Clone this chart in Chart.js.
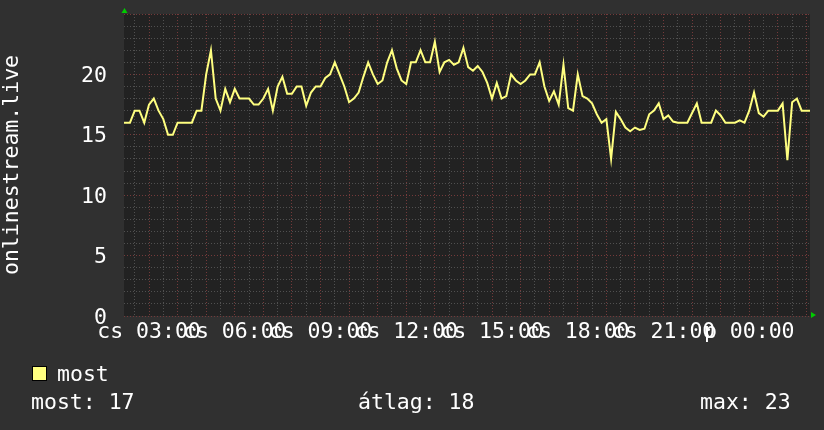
<!DOCTYPE html>
<html>
<head>
<meta charset="utf-8">
<script src="https://cdn.jsdelivr.net/npm/chart.js@4.4.0/dist/chart.umd.min.js"></script>
<style>
  body { margin: 0; background: #303030; }
  #wrap { position: relative; width: 824px; height: 430px; }
  .txt { position: absolute; font-family: "DejaVu Sans Mono", monospace; font-size: 21.5px; line-height: 21px; color: #fff; white-space: pre; }
  #legend-box { position: absolute; left: 32px; top: 366px; width: 15px; height: 15px; box-sizing: border-box; background: #ffff80; border: 1px solid #000; }
</style>
</head>
<body>
<div id="wrap">
  <canvas id="chart" width="824" height="430"></canvas>
  <div id="legend-box"></div>
  <div class="txt" id="legend-name" style="left:57px; top:363px;"></div>
  <div class="txt" id="stat-now" style="left:31px; top:391px;"></div>
  <div class="txt" id="stat-avg" style="left:358px; top:391px;"></div>
  <div class="txt" id="stat-max" style="left:700px; top:391px;"></div>
</div>
<script>
// one sample every 10 minutes, starting thursday 02:00
const startHour = 2;
const stepMinutes = 10;
const listeners = [
  16,
  16, 16, 17, 17, 16, 17.5, 18, 17, 16.3, 15,
  15, 16, 16, 16, 16, 17, 17, 20, 22, 18,
  17, 18.8, 17.7, 18.8, 18, 18, 18, 17.5, 17.5, 18,
  18.8, 17, 19, 19.8, 18.4, 18.4, 19, 19, 17.4, 18.5,
  19, 19, 19.7, 20, 21, 20, 19, 17.7, 18, 18.5,
  19.8, 21, 20, 19.2, 19.5, 21, 22, 20.5, 19.5, 19.2,
  21, 21, 22, 21, 21, 22.7, 20.2, 21, 21.2, 20.8,
  21, 22.2, 20.6, 20.3, 20.7, 20.2, 19.3, 18, 19.3, 18,
  18.2, 20, 19.5, 19.2, 19.5, 20, 20, 21, 19, 17.8,
  18.6, 17.5, 20.8, 17.2, 17, 20, 18.2, 18, 17.6, 16.7,
  16, 16.3, 13, 16.9, 16.3, 15.6, 15.3, 15.6, 15.4, 15.5,
  16.7, 17, 17.6, 16.3, 16.6, 16.1, 16, 16, 16, 16.8,
  17.6, 16, 16, 16, 17, 16.6, 16, 16, 16, 16.2,
  16, 17, 18.5, 16.8, 16.5, 17, 17, 17, 17.6, 12.9,
  17.7, 18, 17, 17, 17
];

const xTickHours = [3, 6, 9, 12, 15, 18, 21, 24];
const xTickLabels = ['cs 03:00', 'cs 06:00', 'cs 09:00', 'cs 12:00', 'cs 15:00', 'cs 18:00', 'cs 21:00', 'p 00:00'];
const yTickLabels = [0, 5, 10, 15, 20];
const yTitle = 'onlinestream.live';
const seriesName = 'most';
const statNames = ['most', 'átlag', 'max'];
const statValues = [17, 18, 23];

const xMin = 2.125;
const xMax = 26.125;
const monoFont = { family: 'DejaVu Sans Mono', size: 21.5 };
const minorGrid = '#505050';
const majorGrid = '#743a3a';

const points = listeners.map((v, i) => ({ x: startHour + i * stepMinutes / 60, y: v }));

const plotBg = {
  id: 'plotBg',
  beforeDraw(chart) {
    const { ctx, chartArea: a } = chart;
    ctx.save();
    ctx.fillStyle = '#222222';
    ctx.fillRect(a.left, a.top, a.right - a.left, a.bottom - a.top);
    ctx.restore();
  }
};

// little green arrow heads at the axis ends
const axisArrows = {
  id: 'axisArrows',
  afterDraw(chart) {
    const { ctx, chartArea: a } = chart;
    ctx.save();
    ctx.fillStyle = '#00cc00';
    ctx.beginPath();
    ctx.moveTo(a.left - 2.5, a.top - 1);
    ctx.lineTo(a.left + 3.5, a.top - 1);
    ctx.lineTo(a.left + 0.5, a.top - 6);
    ctx.fill();
    ctx.beginPath();
    ctx.moveTo(a.right + 1, a.bottom - 4);
    ctx.lineTo(a.right + 1, a.bottom + 2);
    ctx.lineTo(a.right + 6, a.bottom - 1);
    ctx.fill();
    ctx.restore();
  }
};

new Chart(document.getElementById('chart'), {
  type: 'line',
  data: {
    datasets: [{
      label: seriesName,
      data: points,
      borderColor: '#ffff80',
      borderWidth: 2,
      pointRadius: 0,
      tension: 0,
      fill: false
    }]
  },
  options: {
    responsive: false,
    animation: false,
    devicePixelRatio: 1,
    layout: { padding: { left: 0, right: 14, top: 14, bottom: 0 }, autoPadding: false },
    plugins: { legend: { display: false }, tooltip: { enabled: false } },
    scales: {
      x: {
        type: 'linear',
        min: xMin,
        max: xMax,
        afterFit: (scale) => {
          scale.height = 114;
          scale.paddingLeft = 0;
          scale.paddingRight = 0;
        },
        // half-hour grid, hour lines in red
        afterBuildTicks: (scale) => {
          const ticks = [];
          for (let h = Math.ceil(xMin * 2) / 2; h <= xMax; h += 0.5) ticks.push({ value: h });
          scale.ticks = ticks;
        },
        ticks: {
          autoSkip: false,
          maxRotation: 0,
          padding: 4,
          color: '#ffffff',
          font: monoFont,
          callback: (v) => {
            const i = xTickHours.indexOf(v);
            return i >= 0 ? xTickLabels[i] : '';
          }
        },
        grid: {
          drawTicks: false,
          color: (ctx) => Number.isInteger(ctx.tick.value) ? majorGrid : minorGrid
        },
        border: { display: false, dash: [1, 2] }
      },
      y: {
        min: 0,
        max: 25,
        afterFit: (scale) => {
          scale.width = 124;
          scale.paddingTop = 0;
          scale.paddingBottom = 0;
        },
        ticks: {
          stepSize: 1,
          autoSkip: false,
          padding: 17,
          labelOffset: 2,
          color: '#ffffff',
          font: monoFont,
          callback: (v) => yTickLabels.includes(v) ? String(v) : ''
        },
        grid: {
          drawTicks: false,
          color: (ctx) => ctx.tick.value % 5 === 0 ? majorGrid : minorGrid
        },
        border: { display: false, dash: [1, 2] },
        title: { display: true, text: yTitle, color: '#ffffff', font: monoFont, padding: 0 }
      }
    }
  },
  plugins: [plotBg, axisArrows]
});

document.getElementById('legend-name').textContent = seriesName;
document.getElementById('stat-now').textContent = statNames[0] + ': ' + statValues[0];
document.getElementById('stat-avg').textContent = statNames[1] + ': ' + statValues[1];
document.getElementById('stat-max').textContent = statNames[2] + ': ' + statValues[2];
</script>
</body>
</html>
